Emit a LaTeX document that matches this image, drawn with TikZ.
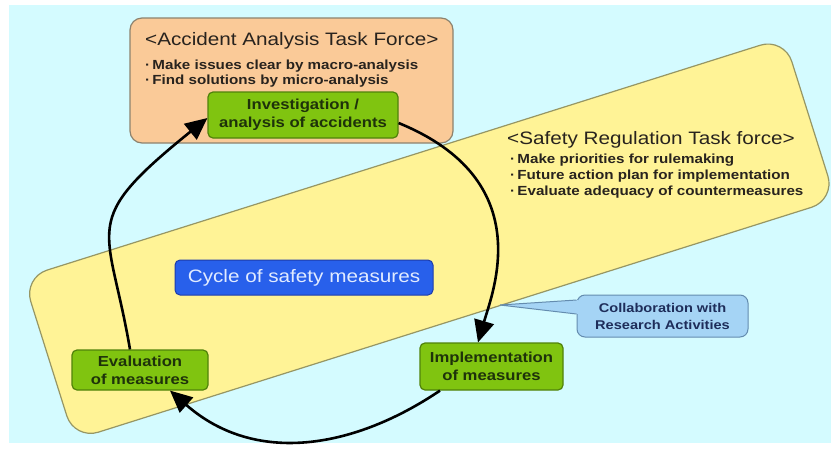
\documentclass[tikz,border=0pt]{standalone}
\usepackage{fontspec}
\setmainfont{Liberation Sans}[FakeStretch=1.15]
\usetikzlibrary{arrows.meta}
\definecolor{bgcyan}{RGB}{212,251,255}
\definecolor{yelfill}{RGB}{255,243,150}
\definecolor{yelline}{RGB}{150,150,100}
\definecolor{orfill}{RGB}{250,202,152}
\definecolor{orline}{RGB}{140,130,110}
\definecolor{grfill}{RGB}{128,196,16}
\definecolor{grline}{RGB}{80,130,10}
\definecolor{grtext}{RGB}{30,50,10}
\definecolor{blfill}{RGB}{40,96,235}
\definecolor{blline}{RGB}{30,60,170}
\definecolor{bltext}{RGB}{225,235,255}
\definecolor{cafill}{RGB}{165,212,245}
\definecolor{caline}{RGB}{100,140,175}
\definecolor{catext}{RGB}{30,45,90}
\definecolor{dark}{RGB}{40,35,30}
\tikzset{
  titletext/.style={anchor=base west, inner sep=0pt, text=dark, font=\fontsize{18}{22}\selectfont},
  bullettext/.style={anchor=base west, inner sep=0pt, text=dark, font=\bfseries\fontsize{13.2}{16}\selectfont},
  greenbox/.style={draw=grline, fill=grfill, line width=1.2pt, rounded corners=5pt, text=grtext,
    align=center, inner sep=0pt, font=\bfseries\fontsize{14.5}{18}\selectfont},
  bluebox/.style={draw=blline, fill=blfill, line width=1pt, rounded corners=5pt, text=bltext,
    inner sep=0pt, font=\fontsize{18}{22}\selectfont},
  callbox/.style={draw=caline, fill=cafill, line width=1pt, rounded corners=8pt, text=catext,
    align=center, inner sep=0pt, font=\bfseries\fontsize{12.7}{17}\selectfont},
  cyclearrow/.style={line width=2.6pt, black, -{Triangle[length=22pt,width=20pt]}}
}
\begin{document}
\begin{tikzpicture}[x=1pt,y=-1pt]
\useasboundingbox (0,0) rectangle (831,448);
\clip (0,0) rectangle (831,448);
\fill[white] (0,0) rectangle (831,448);
\fill[bgcyan] (9,5) rectangle (831,443);
% safety regulation task force band
\node[draw=yelline, fill=yelfill, line width=1.2pt, rounded corners=25pt, rotate=17.5,
  minimum width=798pt, minimum height=170pt, inner sep=0pt] (reg) at (429.3,238.7) {};
% accident analysis task force box
\node[draw=orline, fill=orfill, line width=1.2pt, rounded corners=12pt,
  minimum width=323pt, minimum height=125pt, inner sep=0pt] (acc) at (291.5,80.5) {};
\node[titletext] (acct) at (145,45.7) {<Accident Analysis Task Force>};
\node[bullettext] (acc1) at (145,69) {·\,Make issues clear by macro-analysis};
\node[bullettext] (acc2) at (145,84.5) {·\,Find solutions by micro-analysis};
% regulation texts
\node[titletext] (regt) at (507,144.3) {<Safety Regulation Task force>};
\node[bullettext] (reg1) at (510,163.3) {·\,Make priorities for rulemaking};
\node[bullettext] (reg2) at (510,179.3) {·\,Future action plan for implementation};
\node[bullettext] (reg3) at (510,195.3) {·\,Evaluate adequacy of countermeasures};
% cycle nodes
\node[bluebox, minimum width=258pt, minimum height=35pt] (cyc) at (304,277.5) {Cycle of safety measures};
\node[greenbox, minimum width=190pt, minimum height=46pt] (inv) at (303,115) {Investigation /\\analysis of accidents};
\node[greenbox, minimum width=143pt, minimum height=47pt] (impl) at (491.5,366.5) {Implementation\\of measures};
\node[greenbox, minimum width=136pt, minimum height=40pt] (eval) at (140,370) {Evaluation\\of measures};
% callout
\node[callbox, minimum width=171pt, minimum height=42pt] (collab) at (662.5,316) {Collaboration with\\Research Activities};
\coordinate (tip) at (500,305);
\fill[cafill] ([shift={(1.5,-16)}]collab.west) -- (tip) -- ([shift={(1.5,-2)}]collab.west) -- cycle;
\draw[caline, line width=1pt] ([shift={(0,-16)}]collab.west) -- (tip) -- ([shift={(0,-2)}]collab.west);
% cycle arrows
\draw[cyclearrow] ([shift={(-10,0)}]eval.north) .. controls +(-21.4,-126.2) and +(-130.3,105.2) .. ([shift={(0,3)}]inv.west);
\draw[cyclearrow] ([shift={(0,8)}]inv.east) .. controls +(139.5,57) and +(15.1,-51.7) .. ([shift={(-13.5,0)}]impl.north);
\draw[cyclearrow] ([shift={(-51.5,0)}]impl.south) .. controls +(-85.5,57.7) and +(85.5,75.2) .. ([shift={(30,0)}]eval.south);
\end{tikzpicture}
\end{document}
